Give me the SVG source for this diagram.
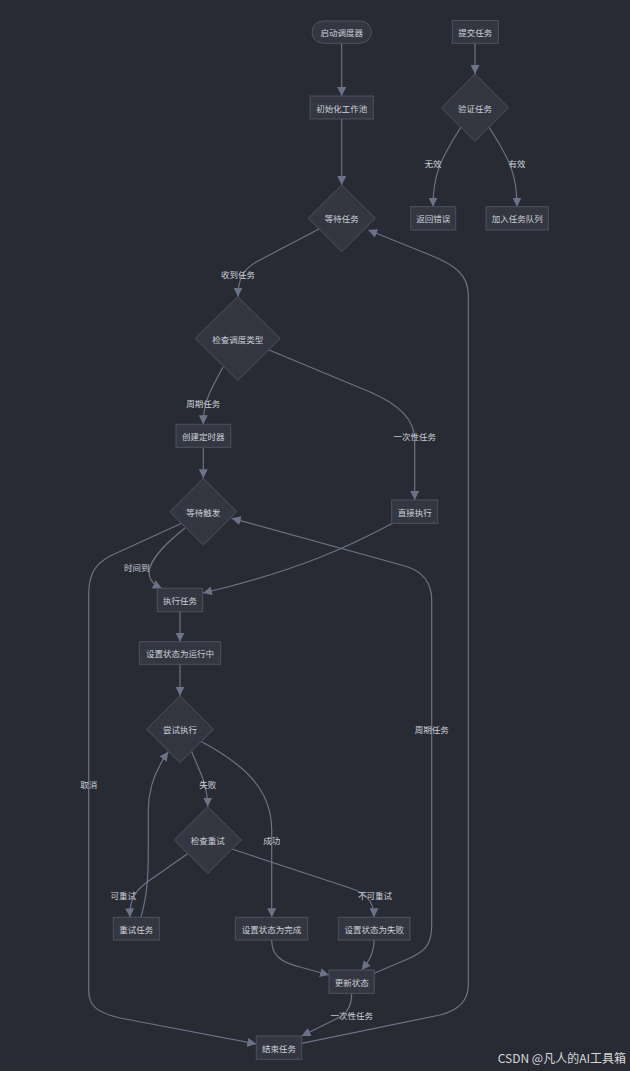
<svg xmlns="http://www.w3.org/2000/svg" width="630" height="1071" viewBox="0 0 630 1071">
<style>
.bg{fill:#282b34}
.n{fill:#343742;stroke:#4d5261;stroke-width:1}
.t{font-family:"Noto Sans CJK SC","Noto Sans",sans-serif;font-size:8.5px;fill:#cdd0d8;text-anchor:middle;dominant-baseline:central}
.e{fill:none;stroke:#6c7287;stroke-width:1.2}
.l{font-family:"Noto Sans CJK SC","Noto Sans",sans-serif;font-size:8.5px;fill:#cdd0d8;text-anchor:middle;dominant-baseline:central}
.wm{font-family:"Noto Sans CJK SC","Noto Sans",sans-serif;font-size:12px;fill:#d8d8d8;text-anchor:end;dominant-baseline:central}
</style>
<defs>
<marker id="ar" viewBox="0 0 10 10" refX="10" refY="5" markerWidth="9" markerHeight="9" markerUnits="userSpaceOnUse" orient="auto">
<path d="M0,0 L10,5 L0,10 z" fill="#6c7287"/>
</marker>
</defs>
<rect class="bg" x="0" y="0" width="630" height="1071"/>

<g id="connectors">
<path class="e" marker-end="url(#ar)" d="M341.7,43 L341.7,96"/>
<path class="e" marker-end="url(#ar)" d="M341.7,119 L341.7,185"/>
<path class="e" marker-end="url(#ar)" d="M475,43 L475,74"/>
<path class="e" marker-end="url(#ar)" d="M461,127 C440,160 433,175 433,206.7"/>
<path class="e" marker-end="url(#ar)" d="M489,127 C510,160 517,175 517,206.7"/>
<path class="e" marker-end="url(#ar)" d="M319,229 L258,261 C243,269 238,279 238,296.7"/>
<path class="e" marker-end="url(#ar)" d="M223,367 C212,388 203.3,400 203.3,424.3"/>
<path class="e" marker-end="url(#ar)" d="M269,350 L370,392 C400,405 414.7,420 414.7,440 L414.7,500"/>
<path class="e" marker-end="url(#ar)" d="M203.3,447.3 L203.3,478.3"/>
<path class="e" marker-end="url(#ar)" d="M185,528 C160,548 145,565 150,578 C152,583 157,586 161.7,588.3"/>
<path class="e" marker-end="url(#ar)" d="M393,523 C350,546 300,570 203,593"/>
<path class="e" marker-end="url(#ar)" d="M181.7,523.3 L110,556 C94,565 88.7,575 88.7,595 L88.7,990 C88.7,1005 95,1012 120,1018 L256.3,1044"/>
<path class="e" marker-end="url(#ar)" d="M374.3,973.3 L410,958 C425,951 431.7,945 431.7,925 L431.7,600 C431.7,585 425,572 405,566 L231.7,518.3"/>
<path class="e" marker-end="url(#ar)" d="M180,611.7 L180,641.7"/>
<path class="e" marker-end="url(#ar)" d="M180,664.3 L180,695.7"/>
<path class="e" marker-end="url(#ar)" d="M191.7,751.7 C200,772 207.7,785 207.7,806.7"/>
<path class="e" marker-end="url(#ar)" d="M201.7,741.7 C245,765 271.7,790 271.7,830 L271.7,917.3"/>
<path class="e" marker-end="url(#ar)" d="M187.3,854 L150,880 C135,890 129.3,900 130,917.3"/>
<path class="e" marker-end="url(#ar)" d="M232.7,849.3 L350,888 C365,893 374,900 374,917.3"/>
<path class="e" marker-end="url(#ar)" d="M141,917.3 C147,895 148.3,880 148.3,850 L148.3,810 C148.3,790 155,770 168.3,751.7"/>
<path class="e" marker-end="url(#ar)" d="M271.7,940 C271.7,955 280,962 300,967 L329,975"/>
<path class="e" marker-end="url(#ar)" d="M374,940 C374,955 368,962 361.7,970"/>
<path class="e" marker-end="url(#ar)" d="M351.7,993.3 C351.7,1010 345,1015 330,1022 L301.7,1036"/>
<path class="e" marker-end="url(#ar)" d="M301.7,1043.3 L440,1015 C460,1010 468.3,1000 468.3,985 L468.3,295 C468.3,275 455,265 430,255 L368.3,230"/>
<text class="l" x="433" y="163">无效</text>
<text class="l" x="517" y="163">有效</text>
<text class="l" x="238" y="274">收到任务</text>
<text class="l" x="203.3" y="403">周期任务</text>
<text class="l" x="414.7" y="436">一次性任务</text>
<text class="l" x="136.7" y="567">时间到</text>
<text class="l" x="88.7" y="784">取消</text>
<text class="l" x="431.7" y="729">周期任务</text>
<text class="l" x="207.7" y="784">失败</text>
<text class="l" x="271.7" y="840">成功</text>
<text class="l" x="123.3" y="895">可重试</text>
<text class="l" x="375" y="895">不可重试</text>
<text class="l" x="351.7" y="1015">一次性任务</text>
</g>

<g id="start"><rect class="n" x="312" y="21" width="59.5" height="22.3" rx="11.2"/><text class="t" x="341.7" y="32">启动调度器</text></g>
<g id="submit"><rect class="n" x="452.3" y="20.5" width="46" height="22.8"/><text class="t" x="475.3" y="32">提交任务</text></g>
<g id="initPool"><rect class="n" x="310" y="96" width="63.3" height="23"/><text class="t" x="341.7" y="107.5">初始化工作池</text></g>
<g id="validate"><polygon class="n" points="475,74 508.5,107.7 475,141.4 441.5,107.7"/><text class="t" x="475" y="107.7">验证任务</text></g>
<g id="returnErr"><rect class="n" x="410.7" y="206.7" width="45" height="23.3"/><text class="t" x="433.2" y="218.3">返回错误</text></g>
<g id="enqueue"><rect class="n" x="486" y="206.7" width="62.3" height="23.3"/><text class="t" x="517.2" y="218.3">加入任务队列</text></g>
<g id="waitTask"><polygon class="n" points="341.7,185 375.2,218.3 341.7,251.6 308.2,218.3"/><text class="t" x="341.7" y="218.3">等待任务</text></g>
<g id="checkType"><polygon class="n" points="237.7,296.7 280.2,338.5 237.7,380.3 195.2,338.5"/><text class="t" x="237.7" y="338.5">检查调度类型</text></g>
<g id="createTimer"><rect class="n" x="176" y="424.3" width="54.7" height="23"/><text class="t" x="203.3" y="435.8">创建定时器</text></g>
<g id="directExec"><rect class="n" x="391.7" y="500" width="46" height="23.3"/><text class="t" x="414.7" y="511.7">直接执行</text></g>
<g id="waitTrigger"><polygon class="n" points="203.3,478.3 236.8,511.7 203.3,545.1 169.8,511.7"/><text class="t" x="203.3" y="511.7">等待触发</text></g>
<g id="execTask"><rect class="n" x="157.3" y="588.3" width="45.4" height="23.4"/><text class="t" x="180" y="600">执行任务</text></g>
<g id="setRunning"><rect class="n" x="139.3" y="641.7" width="81.4" height="22.6"/><text class="t" x="180" y="653">设置状态为运行中</text></g>
<g id="tryExec"><polygon class="n" points="180,695.7 213.5,729.2 180,762.7 146.5,729.2"/><text class="t" x="180" y="729.2">尝试执行</text></g>
<g id="checkRetry"><polygon class="n" points="207.7,806.7 241.2,840 207.7,873.3 174.2,840"/><text class="t" x="207.7" y="840">检查重试</text></g>
<g id="retryTask"><rect class="n" x="113.3" y="917.3" width="46" height="22.7"/><text class="t" x="136.3" y="928.7">重试任务</text></g>
<g id="setDone"><rect class="n" x="235.3" y="917.3" width="72.4" height="22.7"/><text class="t" x="271.5" y="928.7">设置状态为完成</text></g>
<g id="setFailed"><rect class="n" x="338.3" y="917.3" width="71.7" height="22.7"/><text class="t" x="374.2" y="928.7">设置状态为失败</text></g>
<g id="updateStatus"><rect class="n" x="329" y="970" width="45.3" height="23.3"/><text class="t" x="351.7" y="981.7">更新状态</text></g>
<g id="endTask"><rect class="n" x="256.3" y="1036" width="45.4" height="23.3"/><text class="t" x="279" y="1047.7">结束任务</text></g>

<text class="wm" x="626" y="1057">CSDN @凡人的AI工具箱</text>
</svg>
